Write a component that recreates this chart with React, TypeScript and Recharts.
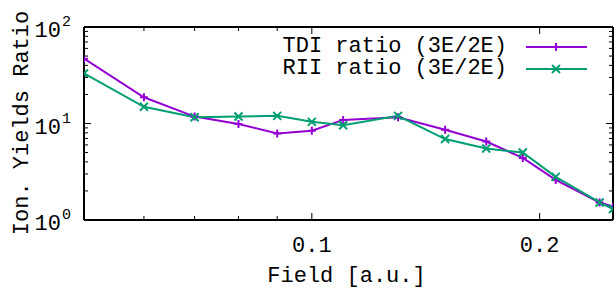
import React from "react";
import {
  LineChart,
  Line,
  XAxis,
  YAxis,
  Legend,
  Label,
} from "recharts";

const fieldValues = [0.05, 0.06, 0.07, 0.08, 0.09, 0.1, 0.11, 0.13, 0.15, 0.17, 0.19, 0.21, 0.24, 0.25];
const tdiRatio = [47, 18.7, 11.8, 9.9, 7.9, 8.4, 10.9, 11.6, 8.6, 6.5, 4.4, 2.6, 1.52, 1.38];
const riiRatio = [33, 14.9, 11.6, 11.8, 12.0, 10.4, 9.6, 12.0, 6.9, 5.5, 5.0, 2.8, 1.52, 1.3];

const xTicks = [0.05, 0.06, 0.07, 0.08, 0.09, 0.1, 0.2];
const xLabeled = [0.1, 0.2];
const yTicks = [1, 2, 3, 4, 5, 6, 7, 8, 9, 10, 20, 30, 40, 50, 60, 70, 80, 90, 100];
const yLabeled: Record<number, string> = { 1: "0", 10: "1", 100: "2" };

const chartData = fieldValues.map((f, i) => ({
  field: f,
  tdi: tdiRatio[i],
  rii: riiRatio[i],
}));

const FONT = "'Liberation Mono', 'DejaVu Sans Mono', monospace";
const PURPLE = "#9400d3";
const GREEN = "#009e73";

const PlusDot = (props: any) => {
  const { cx, cy, index } = props;
  if (cx == null || cy == null) return <g key={`p-${index}`} />;
  return (
    <path
      key={`p-${index}`}
      d={`M${cx - 4},${cy}H${cx + 4}M${cx},${cy - 4}V${cy + 4}`}
      stroke={PURPLE}
      strokeWidth={2}
    />
  );
};

const CrossDot = (props: any) => {
  const { cx, cy, index } = props;
  if (cx == null || cy == null) return <g key={`c-${index}`} />;
  return (
    <path
      key={`c-${index}`}
      d={`M${cx - 4},${cy - 4}L${cx + 4},${cy + 4}M${cx - 4},${cy + 4}L${cx + 4},${cy - 4}`}
      stroke={GREEN}
      strokeWidth={2}
    />
  );
};

// axes are 1px boxes, so tick x/y sit on the axis line
const BottomTick = (props: any) => {
  const { x, y, payload } = props;
  const major = xLabeled.includes(payload.value);
  return (
    <g>
      <line x1={x} x2={x} y1={y} y2={y - (major ? 7 : 4)} stroke="#000" strokeWidth={1} />
      {major && (
        <text x={x} y={y + 32} textAnchor="middle" fontFamily={FONT} fontSize={22} fill="#000">
          {payload.value.toFixed(1)}
        </text>
      )}
    </g>
  );
};

const TopTick = (props: any) => {
  const { x, y, payload } = props;
  const major = xLabeled.includes(payload.value);
  return <line x1={x} x2={x} y1={y} y2={y + (major ? 7 : 4)} stroke="#000" strokeWidth={1} />;
};

const LeftTick = (props: any) => {
  const { x, y, payload } = props;
  const exp = yLabeled[payload.value];
  return (
    <g>
      <line x1={x} x2={x + (exp ? 7 : 4)} y1={y} y2={y} stroke="#000" strokeWidth={1} />
      {exp && (
        <text fontFamily={FONT} fill="#000">
          <tspan x={x - 23} y={y + 10} textAnchor="end" fontSize={22}>10</tspan>
          <tspan x={x - 22} y={y - 1} fontSize={15}>{exp}</tspan>
        </text>
      )}
    </g>
  );
};

const RightTick = (props: any) => {
  const { x, y, payload } = props;
  const major = yLabeled[payload.value];
  return <line x1={x} x2={x - (major ? 7 : 4)} y1={y} y2={y} stroke="#000" strokeWidth={1} />;
};

const LegendContent = () => {
  const rows = [
    { name: "TDI ratio (3E/2E)", color: PURPLE, plus: true },
    { name: "RII ratio (3E/2E)", color: GREEN, plus: false },
  ];
  return (
    <div style={{ fontFamily: FONT, fontSize: 22, color: "#000" }}>
      {rows.map((r) => (
        <div
          key={r.name}
          style={{ display: "flex", justifyContent: "flex-end", alignItems: "center", height: 22, whiteSpace: "pre" }}
        >
          <span style={{ lineHeight: "22px" }}>{r.name}</span>
          <svg width={61} height={22} style={{ marginLeft: 19 }}>
            <line x1={0} x2={61} y1={11} y2={11} stroke={r.color} strokeWidth={2} />
            {r.plus ? (
              <path d="M26,11H34M30,7V15" stroke={r.color} strokeWidth={2} />
            ) : (
              <path d="M26,7L34,15M26,15L34,7" stroke={r.color} strokeWidth={2} />
            )}
          </svg>
        </div>
      ))}
    </div>
  );
};

export default function App() {
  return (
    <div style={{ position: "absolute", left: 0, top: 0, background: "#fff" }}>
      <LineChart
        width={614}
        height={288}
        data={chartData}
        margin={{ top: 26, right: 0, bottom: 67, left: 83 }}
      >
        <XAxis
          dataKey="field"
          type="number"
          scale="log"
          domain={[0.05, 0.25]}
          allowDataOverflow
          ticks={xTicks}
          interval={0}
          height={1}
          tickSize={0}
          tickMargin={0}
          tick={<BottomTick />}
          axisLine={{ stroke: "#000", strokeWidth: 2 }}
          tickLine={false}
        >
          <Label
            content={(p: any) => {
              const vb = p.viewBox;
              return (
                <text x={vb.x + vb.width / 2 - 2} y={282} textAnchor="middle" fontFamily={FONT} fontSize={22} fill="#000">
                  Field [a.u.]
                </text>
              );
            }}
          />
        </XAxis>
        <XAxis
          xAxisId="top"
          orientation="top"
          dataKey="field"
          type="number"
          scale="log"
          domain={[0.05, 0.25]}
          allowDataOverflow
          ticks={xTicks}
          interval={0}
          height={1}
          tickSize={0}
          tickMargin={0}
          tick={<TopTick />}
          axisLine={{ stroke: "#000", strokeWidth: 2 }}
          tickLine={false}
        />
        <YAxis
          type="number"
          scale="log"
          domain={[1, 100]}
          allowDataOverflow
          ticks={yTicks}
          interval={0}
          width={1}
          tickSize={0}
          tickMargin={0}
          tick={<LeftTick />}
          axisLine={{ stroke: "#000", strokeWidth: 2 }}
          tickLine={false}
        >
          <Label
            content={() => (
              <text
                transform="translate(28,123) rotate(-90)"
                textAnchor="middle"
                fontFamily={FONT}
                fontSize={22}
                fill="#000"
              >
                Ion. Yields Ratio
              </text>
            )}
          />
        </YAxis>
        <YAxis
          yAxisId="right"
          orientation="right"
          type="number"
          scale="log"
          domain={[1, 100]}
          allowDataOverflow
          ticks={yTicks}
          interval={0}
          width={1}
          tickSize={0}
          tickMargin={0}
          tick={<RightTick />}
          axisLine={{ stroke: "#000", strokeWidth: 2 }}
          tickLine={false}
        />
        <Legend
          layout="vertical"
          align="center"
          verticalAlign="middle"
          content={<LegendContent />}
          wrapperStyle={{ left: 200, top: 36, width: 387, margin: 0 }}
        />
        <Line
          dataKey="tdi"
          name="TDI ratio (3E/2E)"
          stroke={PURPLE}
          strokeWidth={2}
          dot={PlusDot}
          activeDot={false}
          isAnimationActive={false}
        />
        <Line
          dataKey="rii"
          name="RII ratio (3E/2E)"
          stroke={GREEN}
          strokeWidth={2}
          dot={CrossDot}
          activeDot={false}
          isAnimationActive={false}
        />
      </LineChart>
    </div>
  );
}
